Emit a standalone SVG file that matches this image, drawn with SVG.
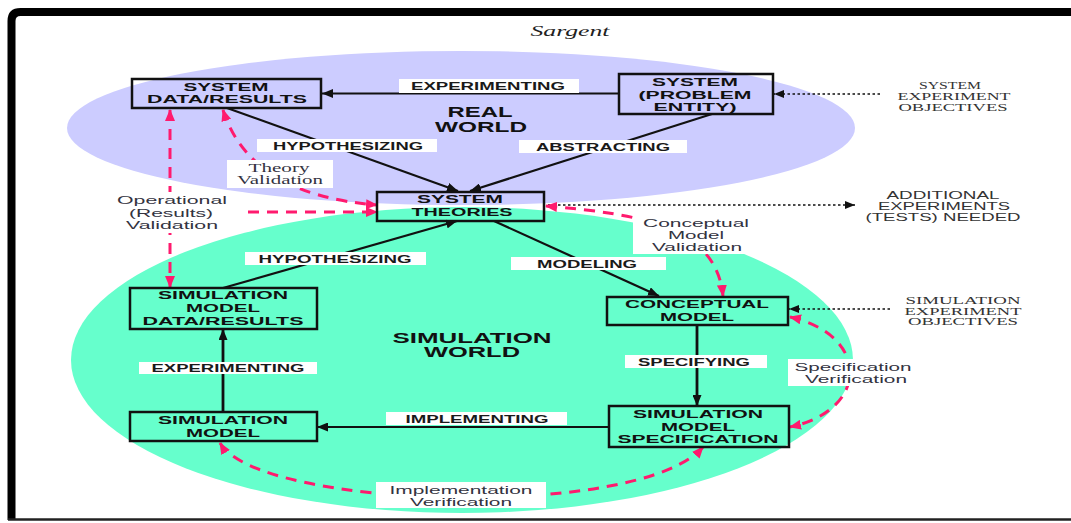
<svg xmlns="http://www.w3.org/2000/svg" width="1071" height="523" viewBox="0 0 1071 523">
<style>
.box{fill:none;stroke:#111;stroke-width:2.5}
.bt{font-family:"Liberation Sans",Arial,sans-serif;font-weight:bold;font-size:11px;fill:#111;text-anchor:middle}
.wt{font-family:"Liberation Sans",Arial,sans-serif;font-weight:bold;font-size:14.5px;fill:#111;text-anchor:middle}
.lb{font-family:"Liberation Sans",Arial,sans-serif;font-weight:bold;font-size:10.5px;fill:#1a1a1a;text-anchor:middle}
.vt{font-family:"Liberation Sans",Arial,sans-serif;font-size:11.5px;fill:#33333f;text-anchor:middle}
.st{font-family:"Liberation Serif","Times New Roman",serif;font-size:12px;fill:#33333f;text-anchor:middle}
.ob{font-family:"Liberation Serif","Times New Roman",serif;font-size:10.5px;fill:#333;text-anchor:middle}
.ad{font-family:"Liberation Sans",Arial,sans-serif;font-size:11px;fill:#333;text-anchor:middle}
.wr{fill:#fff}
.ln{fill:none;stroke:#111;stroke-width:2.2;marker-end:url(#ab)}
.lv{stroke-width:2.8}
.dt{fill:none;stroke:#111;stroke-width:1.6;stroke-dasharray:2.5 2.5;marker-end:url(#ad)}
.rd{fill:none;stroke:#FF1A6E;stroke-width:3;stroke-dasharray:11 8;marker-start:url(#ar);marker-end:url(#ar)}
.rs{fill:none;stroke:#FF1A6E;stroke-width:3;stroke-dasharray:11 8;marker-end:url(#ar)}
</style>
<defs>
<marker id="ab" markerUnits="userSpaceOnUse" markerWidth="11" markerHeight="9" refX="11" refY="4.5" orient="auto"><path d="M0,0 L11,4.5 L0,9 z" fill="#111"/></marker>
<marker id="ad" markerUnits="userSpaceOnUse" markerWidth="10" markerHeight="8" refX="10" refY="4" orient="auto"><path d="M0,0 L10,4 L0,8 z" fill="#111"/></marker>
<marker id="ar" markerUnits="userSpaceOnUse" markerWidth="12" markerHeight="10" refX="11" refY="5" orient="auto-start-reverse"><path d="M0,0 L12,5 L0,10 z" fill="#FF1A6E"/></marker>
</defs>
<rect width="1071" height="523" fill="#fff"/>
<g id="frame">
<path d="M11.5,520 V21 Q11.5,12 20.5,12 H1071" fill="none" stroke="#000" stroke-width="8"/>
<line x1="8" y1="519.5" x2="1071" y2="519.5" stroke="#222" stroke-width="2.5"/>
<text x="570" y="36" font-family="'Liberation Serif','Times New Roman',serif" font-style="italic" font-size="14" fill="#222" text-anchor="middle" textLength="79" lengthAdjust="spacingAndGlyphs">Sargent</text>
</g>
<g id="worlds">
<ellipse cx="461" cy="128" rx="394" ry="77" fill="#CCCCFF"/>
<ellipse cx="462" cy="360" rx="391" ry="153" fill="#66FFCC"/>
<text class="wt" x="480" y="117" textLength="65" lengthAdjust="spacingAndGlyphs">REAL</text>
<text class="wt" x="481" y="132" textLength="92" lengthAdjust="spacingAndGlyphs">WORLD</text>
<text class="wt" x="472" y="343" textLength="159" lengthAdjust="spacingAndGlyphs">SIMULATION</text>
<text class="wt" x="472" y="357" textLength="96" lengthAdjust="spacingAndGlyphs">WORLD</text>
</g>
<g id="connectors">
<line class="ln" x1="619" y1="93.5" x2="322" y2="93.5"/>
<line class="ln" x1="227" y1="108" x2="458" y2="191"/>
<line class="ln" x1="712" y1="114" x2="470" y2="191"/>
<line class="ln" x1="223" y1="288" x2="457" y2="221"/>
<line class="ln" x1="494" y1="221" x2="659" y2="296"/>
<line class="ln lv" x1="697" y1="325" x2="697" y2="406"/>
<line class="ln" x1="609" y1="427" x2="317" y2="427"/>
<line class="ln lv" x1="223" y1="412" x2="223" y2="329"/>
<line class="dt" x1="880" y1="94" x2="774" y2="94"/>
<line class="dt" x1="548" y1="205" x2="855" y2="205"/>
<line class="dt" x1="890" y1="309" x2="789" y2="309"/>
<line class="rd" x1="170" y1="110" x2="170" y2="287"/>
<line class="rs" x1="248" y1="212" x2="377" y2="212"/>
<path class="rd" d="M223,110 Q250,195 377,205"/>
<path class="rd" d="M546,206 C640,214 716,226 723,296"/>
<path class="rd" d="M790,317 C870,335 870,410 790,427"/>
<path class="rd" d="M220,443 C260,510 640,520 703,447"/>
</g>
<g id="labels">
<rect class="wr" x="399" y="79" width="180" height="14"/>
<text class="lb" x="488" y="90" textLength="154" lengthAdjust="spacingAndGlyphs">EXPERIMENTING</text>
<rect class="wr" x="257" y="139" width="180" height="13"/>
<text class="lb" x="348" y="149.5" textLength="150" lengthAdjust="spacingAndGlyphs">HYPOTHESIZING</text>
<rect class="wr" x="519" y="140" width="168" height="13"/>
<text class="lb" x="603" y="150.5" textLength="134" lengthAdjust="spacingAndGlyphs">ABSTRACTING</text>
<rect class="wr" x="511" y="257" width="155" height="13"/>
<text class="lb" x="587" y="267.5" textLength="100" lengthAdjust="spacingAndGlyphs">MODELING</text>
<rect class="wr" x="245" y="252" width="181" height="13"/>
<text class="lb" x="335" y="262.5" textLength="153" lengthAdjust="spacingAndGlyphs">HYPOTHESIZING</text>
<rect class="wr" x="139" y="362" width="178" height="12"/>
<text class="lb" x="228" y="371.5" textLength="153" lengthAdjust="spacingAndGlyphs">EXPERIMENTING</text>
<rect class="wr" x="625" y="355" width="142" height="13"/>
<text class="lb" x="694" y="365.5" textLength="112" lengthAdjust="spacingAndGlyphs">SPECIFYING</text>
<rect class="wr" x="386" y="412" width="181" height="13"/>
<text class="lb" x="477" y="422.5" textLength="143" lengthAdjust="spacingAndGlyphs">IMPLEMENTING</text>
<rect class="wr" x="227" y="160" width="106" height="28"/>
<text class="st" x="279" y="172" textLength="61" lengthAdjust="spacingAndGlyphs">Theory</text>
<text class="st" x="280" y="184" textLength="86" lengthAdjust="spacingAndGlyphs">Validation</text>
<rect class="wr" x="114" y="192" width="118" height="41"/>
<text class="vt" x="172" y="204" textLength="110" lengthAdjust="spacingAndGlyphs">Operational</text>
<text class="vt" x="171" y="217" textLength="84" lengthAdjust="spacingAndGlyphs">(Results)</text>
<text class="vt" x="172" y="229" textLength="92" lengthAdjust="spacingAndGlyphs">Validation</text>
<rect class="wr" x="633" y="213" width="112" height="41"/>
<text class="vt" x="696" y="227" textLength="106" lengthAdjust="spacingAndGlyphs">Conceptual</text>
<text class="vt" x="696" y="238.5" textLength="56" lengthAdjust="spacingAndGlyphs">Model</text>
<text class="vt" x="697" y="251" textLength="90" lengthAdjust="spacingAndGlyphs">Validation</text>
<rect class="wr" x="788" y="359" width="125" height="27"/>
<text class="vt" x="853" y="371" textLength="117" lengthAdjust="spacingAndGlyphs">Specification</text>
<text class="vt" x="856" y="382.5" textLength="102" lengthAdjust="spacingAndGlyphs">Verification</text>
<rect class="wr" x="376" y="482" width="170" height="26"/>
<text class="vt" x="461" y="494" textLength="143" lengthAdjust="spacingAndGlyphs">Implementation</text>
<text class="vt" x="461" y="505.5" textLength="102" lengthAdjust="spacingAndGlyphs">Verification</text>
</g>
<g id="system-experiment-objectives">
<text class="ob" x="950" y="89" textLength="62" lengthAdjust="spacingAndGlyphs">SYSTEM</text>
<text class="ob" x="954" y="100" textLength="113" lengthAdjust="spacingAndGlyphs">EXPERIMENT</text>
<text class="ob" x="953" y="110.5" textLength="109" lengthAdjust="spacingAndGlyphs">OBJECTIVES</text>
</g>
<g id="additional-experiments">
<text class="ad" x="943" y="199" textLength="113" lengthAdjust="spacingAndGlyphs">ADDITIONAL</text>
<text class="ad" x="944" y="210" textLength="132" lengthAdjust="spacingAndGlyphs">EXPERIMENTS</text>
<text class="ad" x="943" y="220.5" textLength="155" lengthAdjust="spacingAndGlyphs">(TESTS) NEEDED</text>
</g>
<g id="simulation-experiment-objectives">
<text class="ob" x="963" y="304" textLength="115" lengthAdjust="spacingAndGlyphs">SIMULATION</text>
<text class="ob" x="963" y="314.5" textLength="117" lengthAdjust="spacingAndGlyphs">EXPERIMENT</text>
<text class="ob" x="963" y="325" textLength="110" lengthAdjust="spacingAndGlyphs">OBJECTIVES</text>
</g>
<g id="system-data-results">
<rect class="box" x="132" y="79" width="189" height="29"/>
<text class="bt" x="226" y="91" textLength="85" lengthAdjust="spacingAndGlyphs">SYSTEM</text>
<text class="bt" x="227" y="103" textLength="160" lengthAdjust="spacingAndGlyphs">DATA/RESULTS</text>
</g>
<g id="system-problem-entity">
<rect class="box" x="619" y="74" width="154" height="40"/>
<text class="bt" x="695" y="86" textLength="86" lengthAdjust="spacingAndGlyphs">SYSTEM</text>
<text class="bt" x="695" y="98.5" textLength="113" lengthAdjust="spacingAndGlyphs">(PROBLEM</text>
<text class="bt" x="695" y="111" textLength="83" lengthAdjust="spacingAndGlyphs">ENTITY)</text>
</g>
<g id="system-theories">
<rect class="box" x="377" y="192" width="167" height="29"/>
<text class="bt" x="460" y="203" textLength="86" lengthAdjust="spacingAndGlyphs">SYSTEM</text>
<text class="bt" x="462" y="216" textLength="101" lengthAdjust="spacingAndGlyphs">THEORIES</text>
</g>
<g id="simulation-model-data-results">
<rect class="box" x="130" y="288" width="187" height="41"/>
<text class="bt" x="223" y="299" textLength="130" lengthAdjust="spacingAndGlyphs">SIMULATION</text>
<text class="bt" x="223" y="312" textLength="74" lengthAdjust="spacingAndGlyphs">MODEL</text>
<text class="bt" x="223" y="324.5" textLength="161" lengthAdjust="spacingAndGlyphs">DATA/RESULTS</text>
</g>
<g id="simulation-model">
<rect class="box" x="130" y="412" width="187" height="29"/>
<text class="bt" x="223" y="424" textLength="130" lengthAdjust="spacingAndGlyphs">SIMULATION</text>
<text class="bt" x="223" y="436.5" textLength="74" lengthAdjust="spacingAndGlyphs">MODEL</text>
</g>
<g id="conceptual-model">
<rect class="box" x="607" y="297" width="181" height="28"/>
<text class="bt" x="697" y="308" textLength="144" lengthAdjust="spacingAndGlyphs">CONCEPTUAL</text>
<text class="bt" x="697" y="320.5" textLength="74" lengthAdjust="spacingAndGlyphs">MODEL</text>
</g>
<g id="simulation-model-specification">
<rect class="box" x="609" y="406" width="180" height="41"/>
<text class="bt" x="698" y="418" textLength="130" lengthAdjust="spacingAndGlyphs">SIMULATION</text>
<text class="bt" x="698" y="431" textLength="74" lengthAdjust="spacingAndGlyphs">MODEL</text>
<text class="bt" x="698" y="443" textLength="161" lengthAdjust="spacingAndGlyphs">SPECIFICATION</text>
</g>
</svg>
